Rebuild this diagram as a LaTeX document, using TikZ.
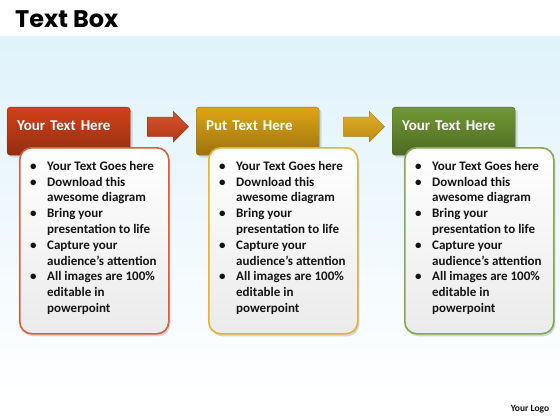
\documentclass[tikz,border=0pt]{standalone}
\usepackage{fontspec}
\setmainfont{Carlito}
\newfontfamily\titlefont{Poppins}
\usetikzlibrary{positioning,shapes.arrows,shadows,calc}
\definecolor{fire}{RGB}{210,65,25}
\definecolor{gold}{RGB}{222,165,20}
\definecolor{moss}{RGB}{112,152,52}
\definecolor{sky}{RGB}{224,242,251}
\definecolor{ink}{RGB}{20,20,20}
\tikzset{
  hdr/.style={draw=#1!70!black,top color=#1,bottom color=#1!70!black,rounded corners=3pt,
    text=white,font=\fontsize{15}{18}\selectfont\bfseries,text width=103pt,align=left,
    inner xsep=10pt,inner ysep=0pt,text height=23pt,text depth=25pt,
    drop shadow={opacity=0.25}},
  hdr/.default=fire,
  card/.style={draw=#1!85!white,line width=1.6pt,top color=white,bottom color=black!8,
    rounded corners=12pt,minimum width=149pt,minimum height=186pt,
    drop shadow={opacity=0.3,shadow xshift=1.5pt,shadow yshift=-2.5pt}},
  card/.default=fire,
  blockarrow/.style={single arrow,draw=#1!75!black,top color=#1!90!white,bottom color=#1!85!black,
    minimum height=41pt,inner xsep=0pt,inner ysep=9.5pt,single arrow head extend=5.5pt},
  blockarrow/.default=fire,
  list/.style={font=\fontsize{13}{15.8}\selectfont\bfseries,align=left,inner sep=0pt,text=ink},
}
\newcommand{\bl}{\makebox[17pt][l]{\textbullet}}
\newcommand{\cl}{\hspace*{17pt}}
\newcommand{\cardtext}{\bl Your Text Goes here\\ \bl Download this\\ \cl awesome diagram\\
  \bl Bring your\\ \cl presentation to life\\ \bl Capture your\\ \cl audience's attention\\
  \bl All images are 100\%\\ \cl editable in\\ \cl powerpoint}

\begin{document}
\begin{tikzpicture}[x=1pt,y=-1pt]
  \useasboundingbox (0,0) rectangle (560,420);
  \fill[white] (0,0) rectangle (560,420);
  \shade[top color=sky,bottom color=white] (0,37) rectangle (560,400);
  \node[font=\titlefont\bfseries\fontsize{24}{28}\selectfont,anchor=west,inner sep=0pt] (title) at (15,19) {Text Box};
  % three steps
  \foreach \n/\x/\t/\c in {1/7/Your Text Here/fire,2/196/Put Text Here/gold,3/392/Your Text Here/moss}{
    \node[hdr=\c,anchor=north west] (h\n) at (\x,107) {\t};
    \node[card=\c,anchor=north west] (c\n) at ($(h\n.north west)+(12,40)$) {};
    \node[list,anchor=north west] (t\n) at ($(c\n.north west)+(11,14)$) {\cardtext};
  }
  \node[blockarrow=fire,yshift=4.5pt] (a1) at ($(h1.east)!0.5!(h2.west)$) {};
  \node[blockarrow=gold,xshift=3.5pt,yshift=4.5pt] (a2) at ($(h2.east)!0.5!(h3.west)$) {};
  \node[font=\fontsize{9.5}{11}\selectfont\bfseries,text=ink] (logo) at (530,409) {Your Logo};
\end{tikzpicture}
\end{document}
